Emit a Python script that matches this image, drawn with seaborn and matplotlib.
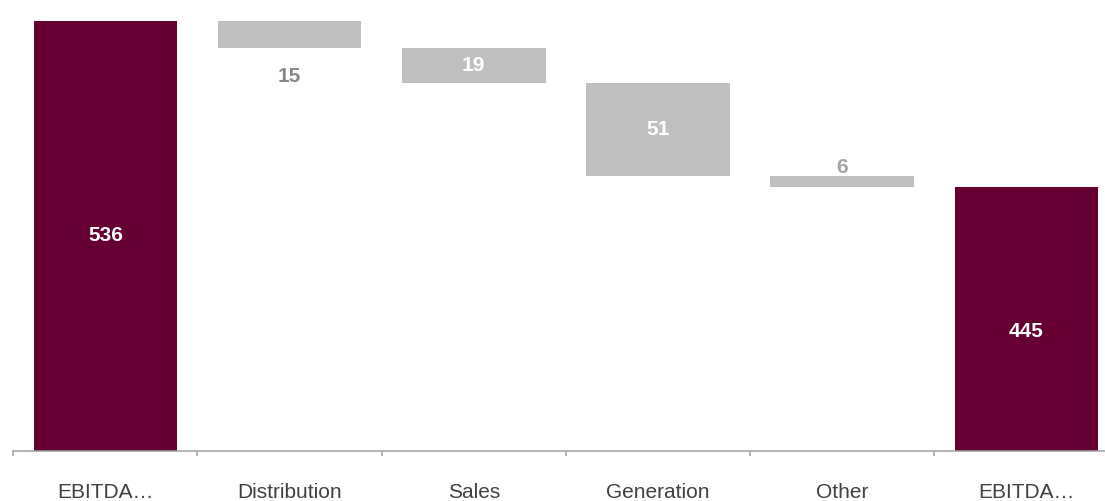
"""
EBITDA bridge (waterfall) chart, drawn with seaborn bars.
"""

import numpy as np
import pandas as pd
import matplotlib
matplotlib.use("Agg")
import matplotlib.pyplot as plt
import seaborn as sns

# Data
steps = ["EBITDA start", "Distribution", "Sales", "Generation", "Other", "EBITDA end"]
tick_labels = ["EBITDA…", "Distribution", "Sales", "Generation", "Other", "EBITDA…"]
values = [536, -15, -19, -51, -6, 445]
kinds = ["total", "delta", "delta", "delta", "delta", "total"]

# Styling
sns.set_theme(style="white")
plt.rcParams["font.family"] = ["Liberation Sans", "DejaVu Sans"]

TOTAL_COLOR = "#660033"
DELTA_COLOR = "#BFBFBF"
LABEL_GRAY = "#878787"
YMIN, YMAX = 300, 547.3

# Work out where each floating bar starts
bottoms, heights = [], []
running = 0
for v, k in zip(values, kinds):
    if k == "total":
        bottoms.append(0)
        heights.append(v)
        running = v
    else:
        running += v
        bottoms.append(min(running, running - v))
        heights.append(abs(v))

df = pd.DataFrame({"step": steps, "height": heights, "bottom": bottoms, "kind": kinds})
palette = {s: (TOTAL_COLOR if k == "total" else DELTA_COLOR) for s, k in zip(steps, kinds)}

fig = plt.figure(figsize=(11.05, 5.01), dpi=100)
ax = fig.add_axes([13.3 / 1105, 50 / 501, 6 * 184.2 / 1105, 451 / 501])

sns.barplot(
    data=df, x="step", y="height", hue="step", order=steps, hue_order=steps,
    palette=palette, width=0.78, saturation=1, legend=False, dodge=False,
    linewidth=0, ax=ax,
)

# lift the floating bars onto their bases
for patch in ax.patches:
    i = int(round(patch.get_x() + patch.get_width() / 2))
    patch.set_y(bottoms[i])

ax.set_xlim(-0.5, 5.5)
ax.set_ylim(YMIN, YMAX)

# value labels
for i, row in df.iterrows():
    top = row["bottom"] + row["height"]
    label = str(abs(values[i]))
    lo = max(row["bottom"], YMIN)
    mid = (lo + top) / 2
    if row["kind"] == "total":
        dy = -9.4 if i == len(steps) - 1 else 0
        ax.annotate(label, (i, mid), xytext=(0, dy), textcoords="offset points",
                    ha="center", va="center", color="white", fontsize=15, fontweight="bold")
    elif row["height"] >= 18:
        ax.annotate(label, (i, mid), ha="center", va="center",
                    color="white", fontsize=15, fontweight="bold")
    elif top + 15 < YMAX:
        ax.annotate(label, (i, top), xytext=(0, 5.8), textcoords="offset points",
                    ha="center", va="center", color="#a3a3a3", fontsize=15, fontweight="bold")
    else:
        ax.annotate(label, (i, row["bottom"]), xytext=(0, -20.2), textcoords="offset points",
                    ha="center", va="center", color=LABEL_GRAY, fontsize=15, fontweight="bold")

# axes cosmetics
for side in ["left", "top", "right"]:
    ax.spines[side].set_visible(False)
ax.spines["bottom"].set_color("#a0a0a0")
ax.spines["bottom"].set_linewidth(1.1)
ax.set_yticks([])
ax.set_xlabel("")
ax.set_ylabel("")
ax.set_xticks(range(len(steps)))
ax.set_xticklabels(tick_labels, fontsize=15, color="#404040")
ax.set_xticks(np.arange(-0.5, len(steps)), minor=True)
ax.tick_params(axis="x", which="major", bottom=True, length=0, pad=23)
ax.tick_params(axis="x", which="minor", bottom=True, length=3.6, width=1.1,
               color="#a0a0a0", direction="out")
ax.patch.set_alpha(0)

fig.savefig("out.png", dpi=100)
